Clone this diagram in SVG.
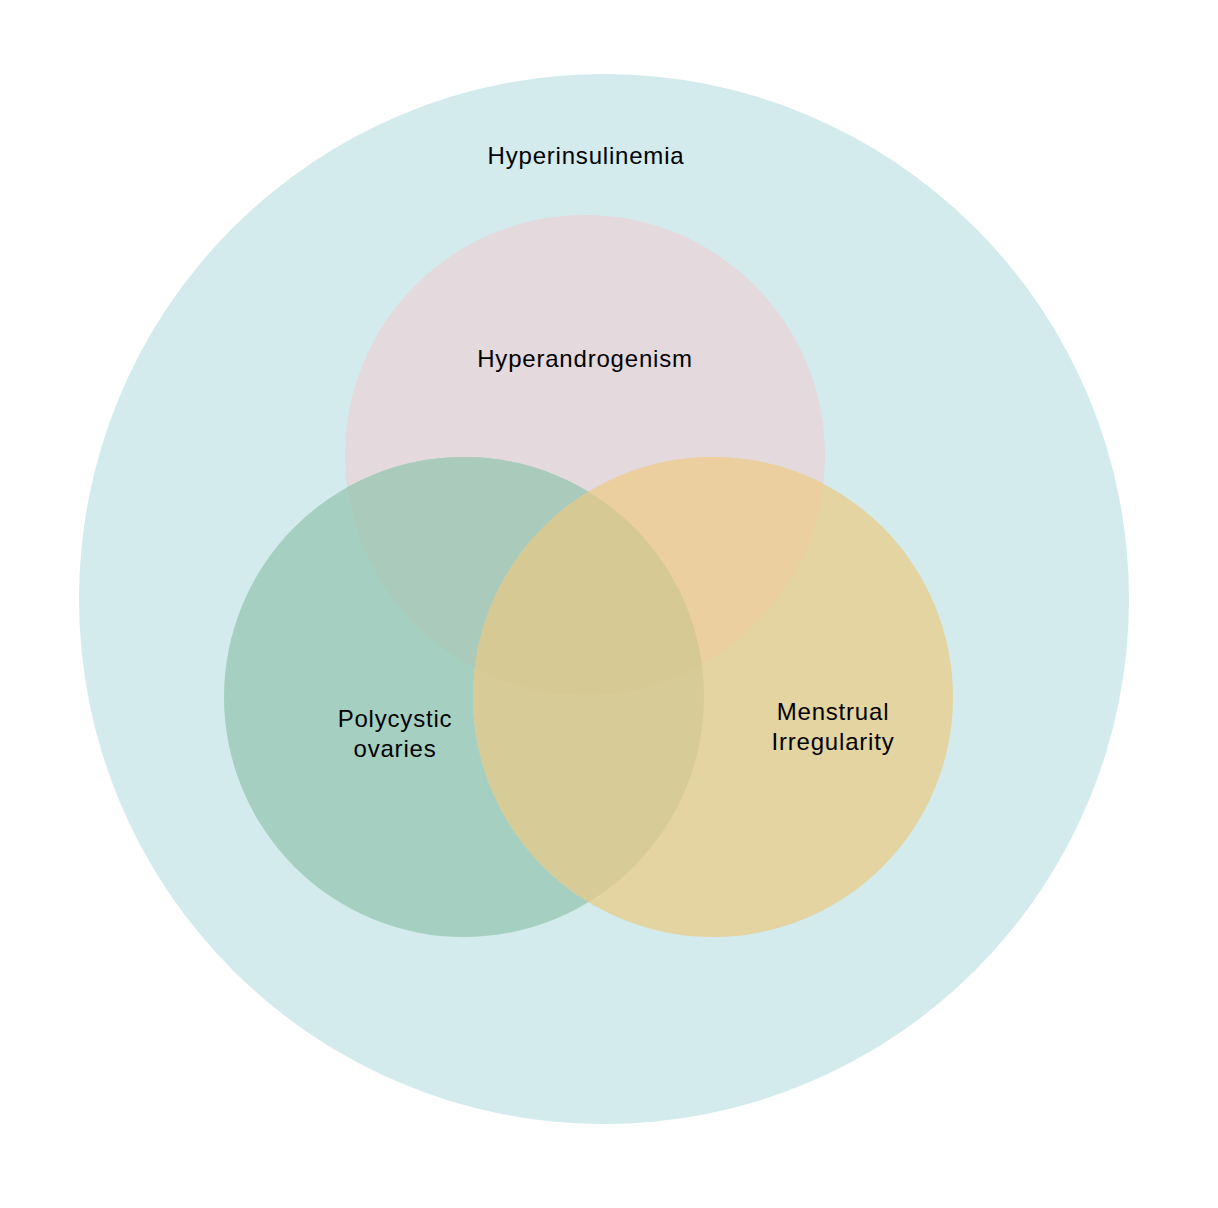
<svg xmlns="http://www.w3.org/2000/svg" width="1218" height="1208" viewBox="0 0 1218 1208">
<style>
text{font-family:"Liberation Sans",Arial,sans-serif;font-size:24px;letter-spacing:0.8px;fill:#000;text-anchor:middle}
</style>
<defs>
<clipPath id="cp"><circle cx="585" cy="455" r="240"/></clipPath>
<clipPath id="cg"><circle cx="464" cy="697" r="240"/></clipPath>
<clipPath id="cy"><circle cx="713" cy="697" r="240"/></clipPath>
</defs>
<rect width="1218" height="1208" fill="#ffffff"/>
<g id="hyperinsulinemia">
<circle cx="604" cy="599" r="525" fill="#d3ebec"/>
<text x="586" y="164">Hyperinsulinemia</text>
</g>
<g id="hyperandrogenism">
<circle cx="585" cy="455" r="240" fill="#e4d9dc"/>
</g>
<g id="polycystic-ovaries">
<circle cx="464" cy="697" r="240" fill="#a5d0c1"/>
</g>
<g id="menstrual-irregularity">
<circle cx="713" cy="697" r="240" fill="#e3d4a2"/>
</g>
<g id="overlaps">
<circle cx="464" cy="697" r="240" fill="#aacbbc" clip-path="url(#cp)"/>
<circle cx="713" cy="697" r="240" fill="#ebcf9f" clip-path="url(#cp)"/>
<circle cx="713" cy="697" r="240" fill="#d7cc98" clip-path="url(#cg)"/>
<g clip-path="url(#cp)"><circle cx="713" cy="697" r="240" fill="#d6c994" clip-path="url(#cg)"/></g>
</g>
<g id="labels">
<text x="585" y="367">Hyperandrogenism</text>
<text x="395" y="727">Polycystic</text>
<text x="395" y="757">ovaries</text>
<text x="833" y="720">Menstrual</text>
<text x="833" y="750">Irregularity</text>
</g>
</svg>
